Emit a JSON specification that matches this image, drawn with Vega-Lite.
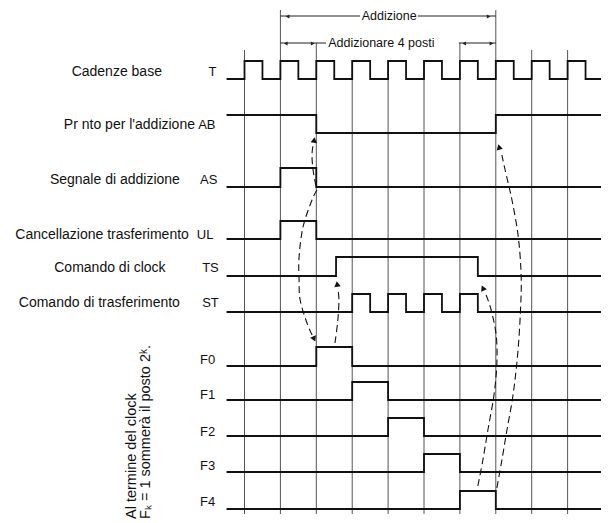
{
  "$schema": "https://vega.github.io/schema/vega-lite/v6.json",
  "width": 611,
  "height": 523,
  "autosize": {"type": "fit", "contains": "padding"},
  "padding": 0,
  "background": "white",
  "config": {"view": {"stroke": null}, "text": {"font": "Liberation Sans"}},
  "datasets": {
    "waves": [
      {"s": "T", "t": -0.5, "y": 79}, {"s": "T", "t": 0, "y": 61}, {"s": "T", "t": 0.5, "y": 79},
      {"s": "T", "t": 1, "y": 61}, {"s": "T", "t": 1.5, "y": 79}, {"s": "T", "t": 2, "y": 61},
      {"s": "T", "t": 2.5, "y": 79}, {"s": "T", "t": 3, "y": 61}, {"s": "T", "t": 3.5, "y": 79},
      {"s": "T", "t": 4, "y": 61}, {"s": "T", "t": 4.5, "y": 79}, {"s": "T", "t": 5, "y": 61},
      {"s": "T", "t": 5.5, "y": 79}, {"s": "T", "t": 6, "y": 61}, {"s": "T", "t": 6.5, "y": 79},
      {"s": "T", "t": 7, "y": 61}, {"s": "T", "t": 7.5, "y": 79}, {"s": "T", "t": 8, "y": 61},
      {"s": "T", "t": 8.5, "y": 79}, {"s": "T", "t": 9, "y": 61}, {"s": "T", "t": 9.5, "y": 79},
      {"s": "T", "t": 9.93, "y": 79},
      {"s": "AB", "t": -0.5, "y": 115}, {"s": "AB", "t": 2, "y": 133}, {"s": "AB", "t": 7, "y": 115}, {"s": "AB", "t": 9.93, "y": 115},
      {"s": "AS", "t": -0.5, "y": 187}, {"s": "AS", "t": 1, "y": 168}, {"s": "AS", "t": 2, "y": 187}, {"s": "AS", "t": 9.93, "y": 187},
      {"s": "UL", "t": -0.5, "y": 239}, {"s": "UL", "t": 1, "y": 221}, {"s": "UL", "t": 2, "y": 239}, {"s": "UL", "t": 9.93, "y": 239},
      {"s": "TS", "t": -0.5, "y": 276}, {"s": "TS", "t": 2.55, "y": 257}, {"s": "TS", "t": 6.5, "y": 276}, {"s": "TS", "t": 9.93, "y": 276},
      {"s": "ST", "t": -0.5, "y": 312}, {"s": "ST", "t": 3, "y": 294}, {"s": "ST", "t": 3.5, "y": 312},
      {"s": "ST", "t": 4, "y": 294}, {"s": "ST", "t": 4.5, "y": 312}, {"s": "ST", "t": 5, "y": 294},
      {"s": "ST", "t": 5.5, "y": 312}, {"s": "ST", "t": 6, "y": 294}, {"s": "ST", "t": 6.5, "y": 312},
      {"s": "ST", "t": 9.93, "y": 312},
      {"s": "F0", "t": -0.5, "y": 366}, {"s": "F0", "t": 2, "y": 347}, {"s": "F0", "t": 3, "y": 366}, {"s": "F0", "t": 9.93, "y": 366},
      {"s": "F1", "t": -0.5, "y": 400}, {"s": "F1", "t": 3, "y": 382}, {"s": "F1", "t": 4, "y": 400}, {"s": "F1", "t": 9.93, "y": 400},
      {"s": "F2", "t": -0.5, "y": 436}, {"s": "F2", "t": 4, "y": 418}, {"s": "F2", "t": 5, "y": 436}, {"s": "F2", "t": 9.93, "y": 436},
      {"s": "F3", "t": -0.5, "y": 472}, {"s": "F3", "t": 5, "y": 454}, {"s": "F3", "t": 6, "y": 472}, {"s": "F3", "t": 9.93, "y": 472},
      {"s": "F4", "t": -0.5, "y": 509}, {"s": "F4", "t": 6, "y": 491}, {"s": "F4", "t": 7, "y": 509}, {"s": "F4", "t": 9.93, "y": 509}
    ],
    "grid": [
      {"t": 0, "y1": 50, "y2": 514}, {"t": 1, "y1": 10, "y2": 514}, {"t": 2, "y1": 43, "y2": 514},
      {"t": 3, "y1": 61, "y2": 514}, {"t": 4, "y1": 61, "y2": 514}, {"t": 5, "y1": 61, "y2": 514},
      {"t": 6, "y1": 43, "y2": 514}, {"t": 7, "y1": 10, "y2": 514}, {"t": 8, "y1": 50, "y2": 514},
      {"t": 9, "y1": 50, "y2": 514}
    ],
    "spans": [
      {"t1": 1, "t2": 3.22, "y": 16}, {"t1": 4.83, "t2": 7, "y": 16},
      {"t1": 1, "t2": 2.27, "y": 43}, {"t1": 5.97, "t2": 7, "y": 43}
    ],
    "heads": [
      {"t": 1.2, "y": 16.5, "a": 270}, {"t": 6.8, "y": 16.5, "a": 90},
      {"t": 1.15, "y": 43.5, "a": 270}, {"t": 1.9, "y": 43.5, "a": 90},
      {"t": 6.12, "y": 43.5, "a": 270}, {"t": 6.88, "y": 43.5, "a": 90}
    ],
    "arrows": [
      {"k": "A", "i": 0, "t": 2.02, "y": 190}, {"k": "A", "i": 1, "t": 1.88, "y": 200}, {"k": "A", "i": 2, "t": 1.63, "y": 227},
      {"k": "A", "i": 3, "t": 1.52, "y": 257}, {"k": "A", "i": 4, "t": 1.52, "y": 280}, {"k": "A", "i": 5, "t": 1.55, "y": 300},
      {"k": "A", "i": 6, "t": 1.74, "y": 323}, {"k": "A", "i": 7, "t": 1.91, "y": 337},
      {"k": "C", "i": 0, "t": 1.99, "y": 186}, {"k": "C", "i": 1, "t": 1.91, "y": 170}, {"k": "C", "i": 2, "t": 1.88, "y": 155},
      {"k": "C", "i": 3, "t": 1.91, "y": 145},
      {"k": "B", "i": 0, "t": 2.52, "y": 343}, {"k": "B", "i": 1, "t": 2.6, "y": 320}, {"k": "B", "i": 2, "t": 2.63, "y": 300},
      {"k": "B", "i": 3, "t": 2.6, "y": 289},
      {"k": "E", "i": 0, "t": 6.5, "y": 486}, {"k": "E", "i": 1, "t": 6.64, "y": 460}, {"k": "E", "i": 2, "t": 6.78, "y": 430},
      {"k": "E", "i": 3, "t": 6.95, "y": 395}, {"k": "E", "i": 4, "t": 7.03, "y": 363}, {"k": "E", "i": 5, "t": 7.01, "y": 335},
      {"k": "E", "i": 6, "t": 6.87, "y": 310}, {"k": "E", "i": 7, "t": 6.73, "y": 295},
      {"k": "D", "i": 0, "t": 7.03, "y": 488}, {"k": "D", "i": 1, "t": 7.17, "y": 460}, {"k": "D", "i": 2, "t": 7.31, "y": 430},
      {"k": "D", "i": 3, "t": 7.48, "y": 395}, {"k": "D", "i": 4, "t": 7.62, "y": 350}, {"k": "D", "i": 5, "t": 7.7, "y": 300},
      {"k": "D", "i": 6, "t": 7.7, "y": 270}, {"k": "D", "i": 7, "t": 7.62, "y": 235}, {"k": "D", "i": 8, "t": 7.45, "y": 200},
      {"k": "D", "i": 9, "t": 7.26, "y": 170}, {"k": "D", "i": 10, "t": 7.17, "y": 155}
    ],
    "arrowheads": [
      {"k": "A", "t": 1.94, "y": 339, "a": 155},
      {"k": "C", "t": 1.94, "y": 140, "a": 8},
      {"k": "B", "t": 2.58, "y": 284, "a": -8},
      {"k": "E", "t": 6.64, "y": 288, "a": -25},
      {"k": "D", "t": 7.09, "y": 147, "a": -15}
    ],
    "desc": [
      {"t": -2.3, "y": 72, "text": "Cadenze base"},
      {"t": -1.38, "y": 125, "text": "Pr  nto per l'addizione"},
      {"t": -1.8, "y": 180, "text": "Segnale di addizione"},
      {"t": -1.55, "y": 235, "text": "Cancellazione trasferimento"},
      {"t": -2.2, "y": 268, "text": "Comando di clock"},
      {"t": -1.8, "y": 303, "text": "Comando di trasferimento"}
    ],
    "codes": [
      {"t": -1.0, "y": 72, "text": "T"},
      {"t": -1.29, "y": 125, "text": "AB"},
      {"t": -1.24, "y": 180, "text": "AS"},
      {"t": -1.33, "y": 235, "text": "UL"},
      {"t": -1.18, "y": 268, "text": "TS"},
      {"t": -1.18, "y": 303, "text": "ST"},
      {"t": -1.24, "y": 360, "text": "F0"},
      {"t": -1.24, "y": 395, "text": "F1"},
      {"t": -1.24, "y": 432, "text": "F2"},
      {"t": -1.24, "y": 466, "text": "F3"},
      {"t": -1.24, "y": 502, "text": "F4"}
    ],
    "note": [
      {"t": -3.14, "y": 519, "text": "Al termine del clock"},
      {"t": -2.74, "y": 519, "text": "Fₖ = 1 sommerà il posto 2ᵏ."}
    ],
    "titles": [
      {"t": 4.03, "y": 16, "text": "Addizione"}
    ],
    "sub": [
      {"t": 2.33, "y": 43, "text": "Addizionare 4 posti"}
    ]
  },
  "layer": [
    {
      "data": {"name": "grid"},
      "mark": {"type": "rule", "color": "#555555", "strokeWidth": 1},
      "encoding": {
        "x": {"field": "t", "type": "quantitative", "scale": {"domain": [-6.811, 10.209], "nice": false, "zero": false}, "axis": null},
        "y": {"field": "y1", "type": "quantitative", "scale": {"domain": [0, 523], "nice": false, "zero": false, "reverse": true}, "axis": null},
        "y2": {"field": "y2"}
      }
    },
    {
      "data": {"name": "spans"},
      "mark": {"type": "rule", "color": "#222222", "strokeWidth": 1.2},
      "encoding": {
        "x": {"field": "t1", "type": "quantitative", "scale": {"domain": [-6.811, 10.209], "nice": false, "zero": false}, "axis": null},
        "x2": {"field": "t2"},
        "y": {"field": "y", "type": "quantitative", "scale": {"domain": [0, 523], "nice": false, "zero": false, "reverse": true}, "axis": null}
      }
    },
    {
      "data": {"name": "heads"},
      "mark": {"type": "point", "shape": "triangle-up", "filled": true, "color": "#222222", "size": 18, "opacity": 1},
      "encoding": {
        "x": {"field": "t", "type": "quantitative", "scale": {"domain": [-6.811, 10.209], "nice": false, "zero": false}, "axis": null},
        "y": {"field": "y", "type": "quantitative", "scale": {"domain": [0, 523], "nice": false, "zero": false, "reverse": true}, "axis": null},
        "angle": {"field": "a", "type": "quantitative", "scale": null}
      }
    },
    {
      "data": {"name": "waves"},
      "mark": {"type": "line", "interpolate": "step-after", "color": "#111111", "strokeWidth": 1.8},
      "encoding": {
        "x": {"field": "t", "type": "quantitative", "scale": {"domain": [-6.811, 10.209], "nice": false, "zero": false}, "axis": null},
        "y": {"field": "y", "type": "quantitative", "scale": {"domain": [0, 523], "nice": false, "zero": false, "reverse": true}, "axis": null},
        "detail": {"field": "s", "type": "nominal"}
      }
    },
    {
      "data": {"name": "arrows"},
      "mark": {"type": "line", "interpolate": "cardinal", "color": "#111111", "strokeWidth": 1.1, "strokeDash": [7, 4]},
      "encoding": {
        "x": {"field": "t", "type": "quantitative", "scale": {"domain": [-6.811, 10.209], "nice": false, "zero": false}, "axis": null},
        "y": {"field": "y", "type": "quantitative", "scale": {"domain": [0, 523], "nice": false, "zero": false, "reverse": true}, "axis": null},
        "detail": {"field": "k", "type": "nominal"},
        "order": {"field": "i", "type": "quantitative"}
      }
    },
    {
      "data": {"name": "arrowheads"},
      "mark": {"type": "point", "shape": "triangle-up", "filled": true, "color": "#111111", "size": 40, "opacity": 1},
      "encoding": {
        "x": {"field": "t", "type": "quantitative", "scale": {"domain": [-6.811, 10.209], "nice": false, "zero": false}, "axis": null},
        "y": {"field": "y", "type": "quantitative", "scale": {"domain": [0, 523], "nice": false, "zero": false, "reverse": true}, "axis": null},
        "angle": {"field": "a", "type": "quantitative", "scale": null}
      }
    },
    {
      "data": {"name": "titles"},
      "mark": {"type": "text", "align": "center", "baseline": "middle", "fontSize": 12.5, "color": "#111111"},
      "encoding": {
        "x": {"field": "t", "type": "quantitative", "scale": {"domain": [-6.811, 10.209], "nice": false, "zero": false}, "axis": null},
        "y": {"field": "y", "type": "quantitative", "scale": {"domain": [0, 523], "nice": false, "zero": false, "reverse": true}, "axis": null},
        "text": {"field": "text"}
      }
    },
    {
      "data": {"name": "sub"},
      "mark": {"type": "text", "align": "left", "baseline": "middle", "fontSize": 12.5, "color": "#111111"},
      "encoding": {
        "x": {"field": "t", "type": "quantitative", "scale": {"domain": [-6.811, 10.209], "nice": false, "zero": false}, "axis": null},
        "y": {"field": "y", "type": "quantitative", "scale": {"domain": [0, 523], "nice": false, "zero": false, "reverse": true}, "axis": null},
        "text": {"field": "text"}
      }
    },
    {
      "data": {"name": "desc"},
      "mark": {"type": "text", "align": "right", "baseline": "middle", "fontSize": 14, "color": "#111111"},
      "encoding": {
        "x": {"field": "t", "type": "quantitative", "scale": {"domain": [-6.811, 10.209], "nice": false, "zero": false}, "axis": null},
        "y": {"field": "y", "type": "quantitative", "scale": {"domain": [0, 523], "nice": false, "zero": false, "reverse": true}, "axis": null},
        "text": {"field": "text"}
      }
    },
    {
      "data": {"name": "codes"},
      "mark": {"type": "text", "align": "left", "baseline": "middle", "fontSize": 13, "color": "#111111"},
      "encoding": {
        "x": {"field": "t", "type": "quantitative", "scale": {"domain": [-6.811, 10.209], "nice": false, "zero": false}, "axis": null},
        "y": {"field": "y", "type": "quantitative", "scale": {"domain": [0, 523], "nice": false, "zero": false, "reverse": true}, "axis": null},
        "text": {"field": "text"}
      }
    },
    {
      "data": {"name": "note"},
      "mark": {"type": "text", "align": "left", "baseline": "middle", "angle": 270, "fontSize": 14.5, "color": "#111111"},
      "encoding": {
        "x": {"field": "t", "type": "quantitative", "scale": {"domain": [-6.811, 10.209], "nice": false, "zero": false}, "axis": null},
        "y": {"field": "y", "type": "quantitative", "scale": {"domain": [0, 523], "nice": false, "zero": false, "reverse": true}, "axis": null},
        "text": {"field": "text"}
      }
    }
  ]
}
